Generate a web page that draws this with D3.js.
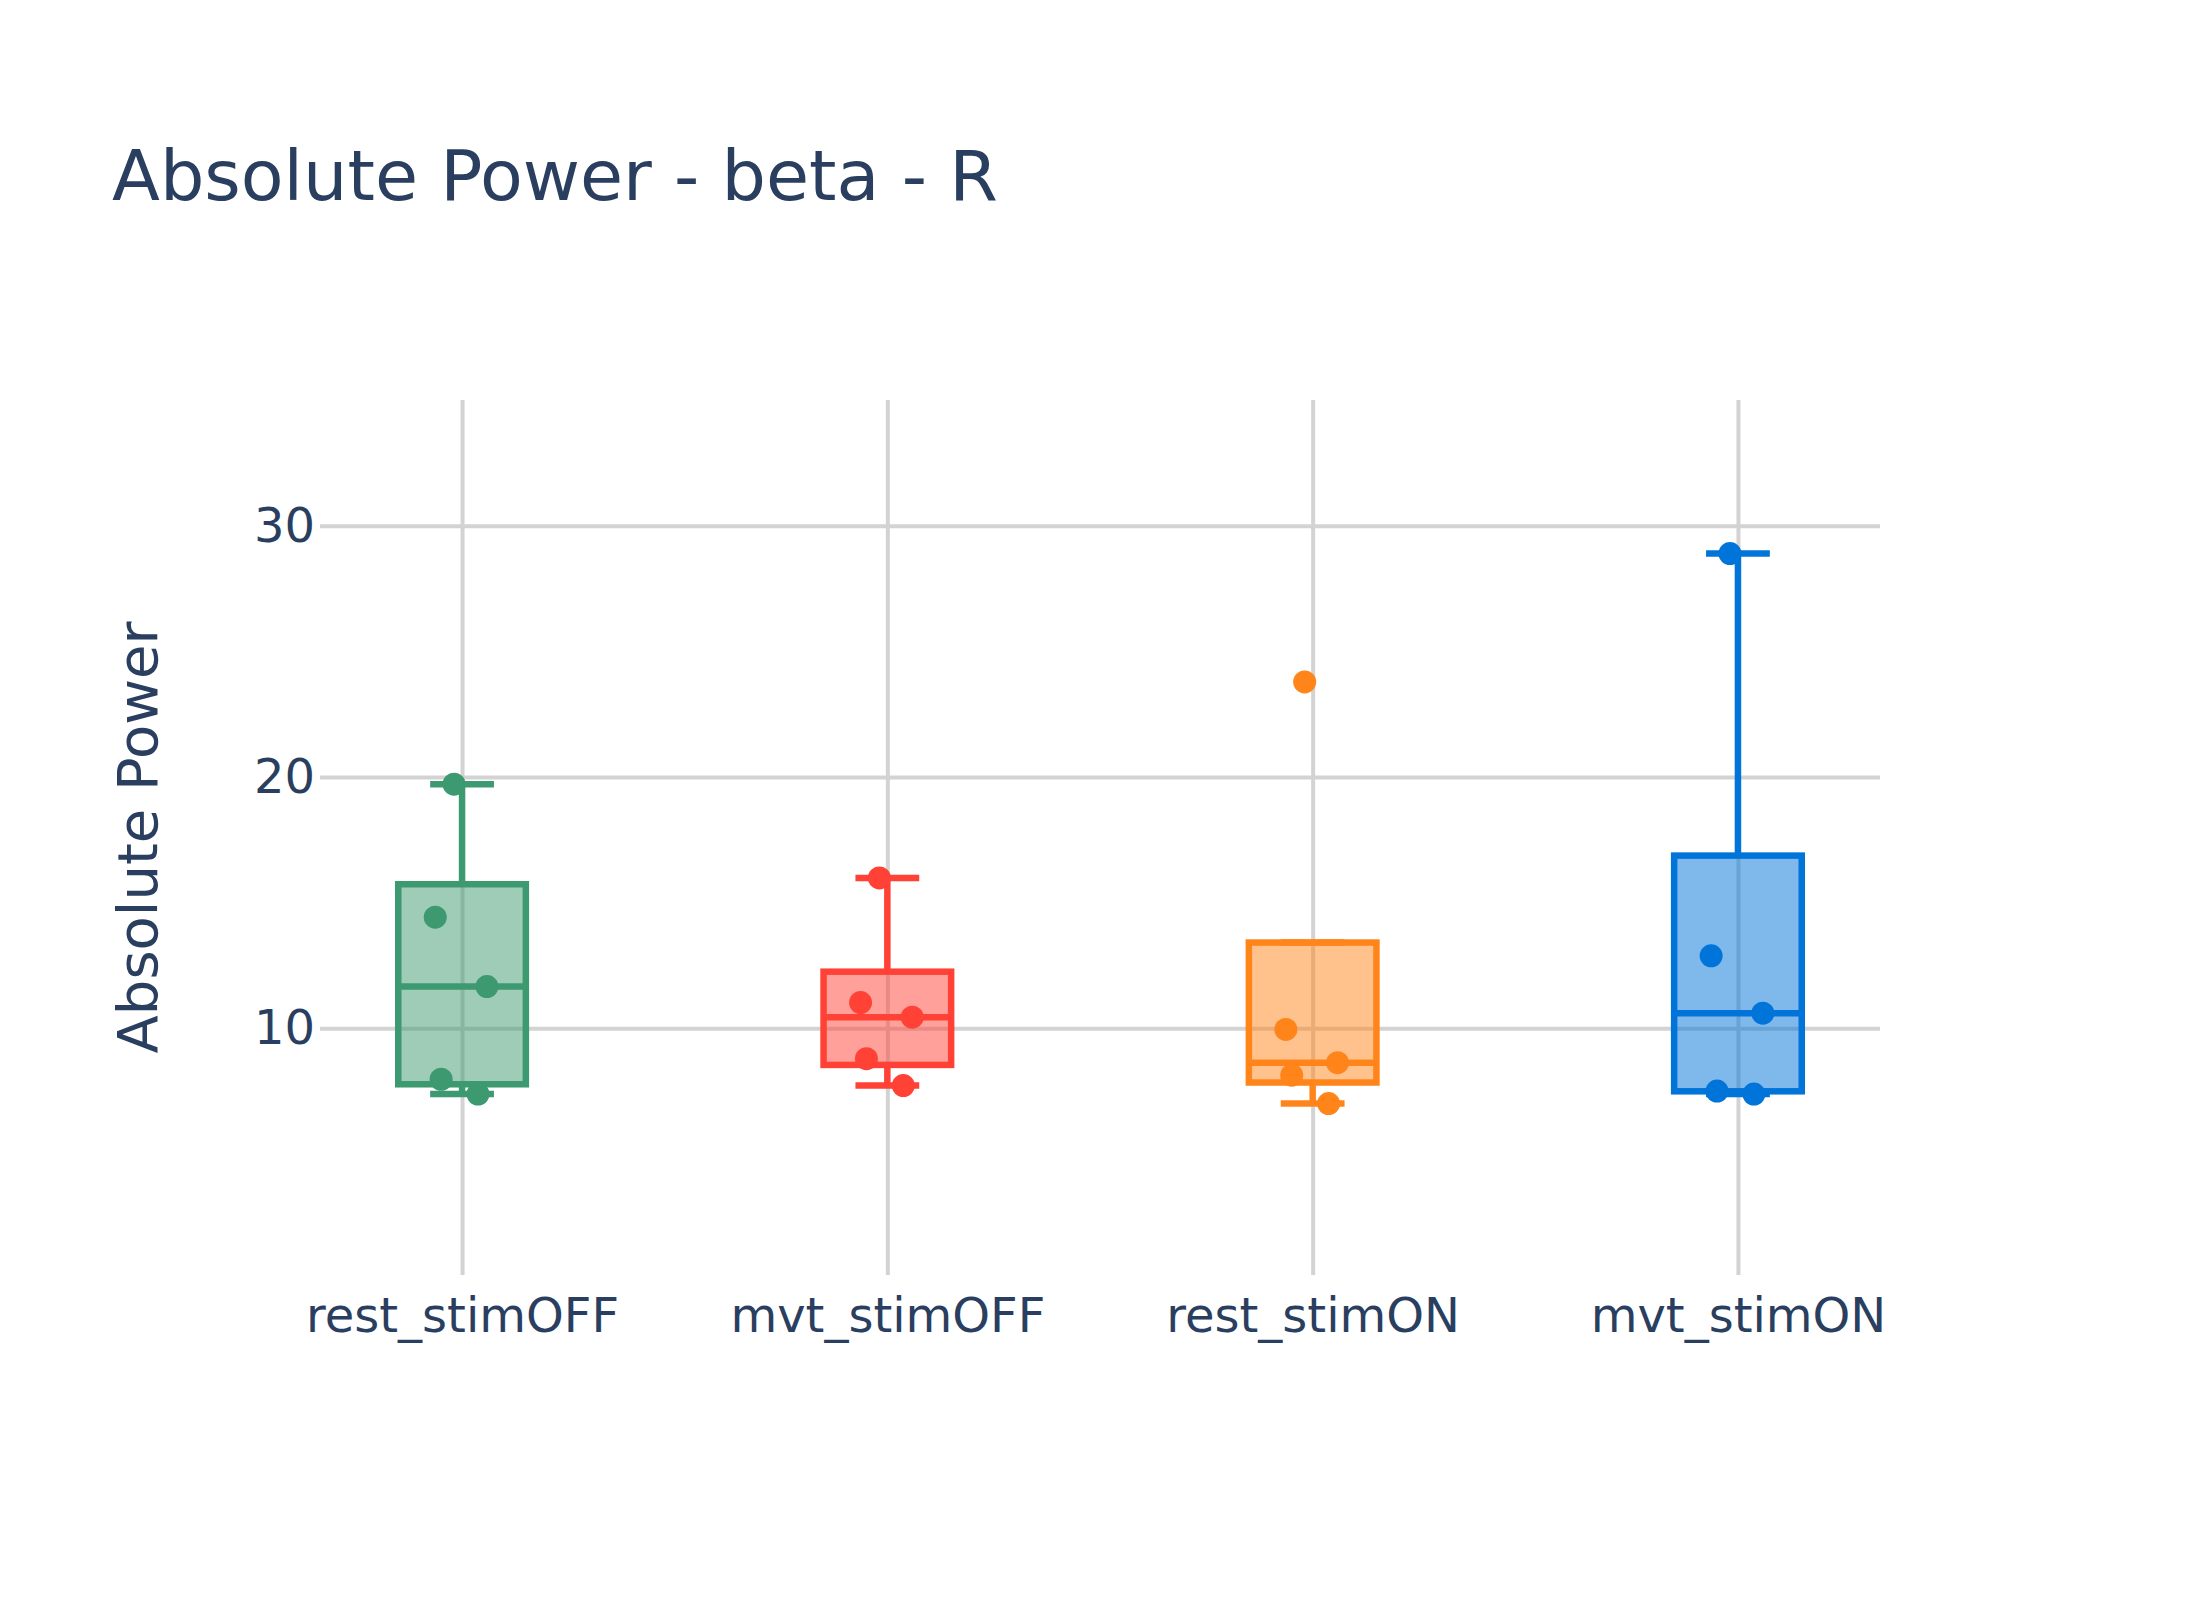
<!DOCTYPE html>
<html>
<head>
<meta charset="utf-8">
<script src="https://cdn.jsdelivr.net/npm/d3@7"></script>
<style>
  html, body { margin: 0; padding: 0; background: #fff; }
  svg { display: block; }
</style>
</head>
<body>
<svg id="chart" width="2200" height="1600"></svg>
<script>
// ---- data ----
const categories = ["rest_stimOFF", "mvt_stimOFF", "rest_stimON", "mvt_stimON"];
const colors = ["#3D9970", "#FF4136", "#FF851B", "#0074D9"];
const q1Values = [7.77, 8.54, 7.84, 7.49];
const medianValues = [11.66, 10.44, 8.63, 10.60];
const q3Values = [15.73, 12.25, 13.41, 16.87];
const lowerFenceValues = [7.38, 7.72, 7.00, 7.38];
const upperFenceValues = [19.71, 15.98, 13.41, 28.89];
const restOffPoints = [19.71, 14.42, 11.66, 7.97, 7.38];
const mvtOffPoints = [15.98, 11.02, 10.44, 8.79, 7.72];
const restOnPoints = [23.78, 9.95, 8.63, 8.13, 7.00];
const mvtOnPoints = [28.89, 12.88, 10.60, 7.50, 7.38];
const pointSets = [restOffPoints, mvtOffPoints, restOnPoints, mvtOnPoints];
const yTicks = [10, 20, 30];
const titleText = "Absolute Power - beta - R";
const yTitleText = "Absolute Power";

// ---- layout / style ----
const plot = { left: 320, right: 1880, top: 400, bottom: 1275 };
const jitterFrac = [-0.0625, -0.21, 0.195, -0.164, 0.125]; // jitter as fraction of box width
const textColor = "#2a3f5f";
const gridColor = "#d3d3d3";
const fontFamily = "'DejaVu Sans', Verdana, sans-serif";
const lineW = 6.5;

const svg = d3.select("#chart");
svg.append("rect").attr("width", 2200).attr("height", 1600).attr("fill", "#fff");

const x = d3.scalePoint().domain(categories).range([plot.left, plot.right]).padding(0.334);
const y = d3.scaleLinear().domain([0.18, 35]).range([plot.bottom, plot.top]);
const boxW = x.step() * 0.3;

// y axis with gridlines
const yAxis = svg.append("g")
  .attr("transform", `translate(${plot.left},0)`)
  .call(d3.axisLeft(y).tickValues(yTicks).tickSizeInner(-(plot.right - plot.left)).tickSizeOuter(0).tickPadding(5));
yAxis.select(".domain").remove();
yAxis.selectAll(".tick line").attr("stroke", gridColor).attr("stroke-width", 4);
yAxis.selectAll(".tick text")
  .attr("fill", textColor).attr("font-size", 48).attr("font-family", fontFamily);

// x axis with gridlines
const xAxis = svg.append("g")
  .attr("transform", `translate(0,${plot.bottom})`)
  .call(d3.axisBottom(x).tickSizeInner(-(plot.bottom - plot.top)).tickSizeOuter(0).tickPadding(23));
xAxis.select(".domain").remove();
xAxis.selectAll(".tick line").attr("stroke", gridColor).attr("stroke-width", 4);
xAxis.selectAll(".tick text")
  .attr("fill", textColor).attr("font-size", 48).attr("font-family", fontFamily);

// boxes
const data = categories.map((c, i) => ({
  cat: c, color: colors[i], q1: q1Values[i], med: medianValues[i], q3: q3Values[i],
  lo: lowerFenceValues[i], hi: upperFenceValues[i], pts: pointSets[i]
}));

const g = svg.append("g");
data.forEach(d => {
  const cx = x(d.cat);
  const tg = g.append("g");
  // whiskers
  tg.append("line").attr("x1", cx).attr("x2", cx).attr("y1", y(d.q3)).attr("y2", y(d.hi))
    .attr("stroke", d.color).attr("stroke-width", lineW);
  tg.append("line").attr("x1", cx).attr("x2", cx).attr("y1", y(d.q1)).attr("y2", y(d.lo))
    .attr("stroke", d.color).attr("stroke-width", lineW);
  // caps
  [d.hi, d.lo].forEach(v => {
    tg.append("line").attr("x1", cx - boxW / 4).attr("x2", cx + boxW / 4)
      .attr("y1", y(v)).attr("y2", y(v))
      .attr("stroke", d.color).attr("stroke-width", lineW);
  });
  // box
  tg.append("rect")
    .attr("x", cx - boxW / 2).attr("width", boxW)
    .attr("y", y(d.q3)).attr("height", y(d.q1) - y(d.q3))
    .attr("fill", d.color).attr("fill-opacity", 0.5)
    .attr("stroke", d.color).attr("stroke-width", lineW);
  // median
  tg.append("line").attr("x1", cx - boxW / 2).attr("x2", cx + boxW / 2)
    .attr("y1", y(d.med)).attr("y2", y(d.med))
    .attr("stroke", d.color).attr("stroke-width", lineW);
  // points
  tg.selectAll("circle").data(d.pts).join("circle")
    .attr("cx", (v, j) => cx + jitterFrac[j] * boxW)
    .attr("cy", v => y(v))
    .attr("r", 11.5)
    .attr("fill", d.color);
});

// titles
svg.append("text").attr("x", 112).attr("y", 200)
  .attr("font-size", 70).attr("font-family", fontFamily).attr("fill", textColor)
  .text(titleText);
svg.append("text")
  .attr("transform", `translate(157,${(plot.top + plot.bottom) / 2}) rotate(-90)`)
  .attr("text-anchor", "middle")
  .attr("font-size", 56).attr("font-family", fontFamily).attr("fill", textColor)
  .text(yTitleText);
</script>
</body>
</html>
